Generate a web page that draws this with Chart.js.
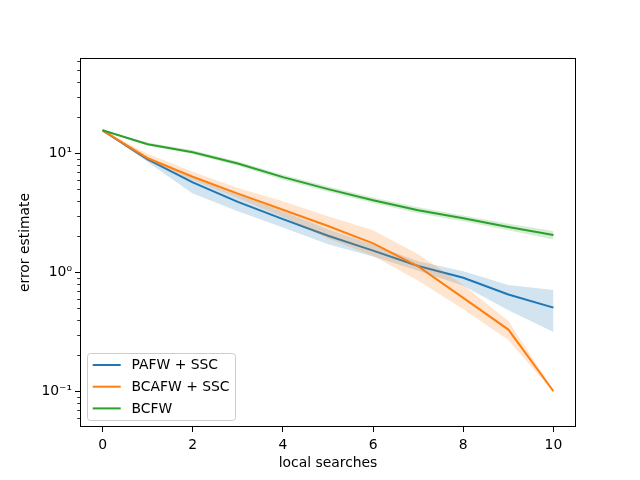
<!DOCTYPE html>
<html>
<head>
<meta charset="utf-8">
<script src="https://cdn.jsdelivr.net/npm/chart.js@4.4.1/dist/chart.umd.min.js"></script>
<style>
  html, body { margin: 0; padding: 0; background: #fff; }
  #wrap { width: 640px; height: 480px; }
</style>
</head>
<body>
<div id="wrap"><canvas id="errChart" width="640" height="480"></canvas></div>
<script>
// local search steps
const steps = [0, 1, 2, 3, 4, 5, 6, 7, 8, 9, 10];

// PAFW + SSC
const pafwMean  = [15.6, 8.9, 5.7, 3.9, 2.8, 2.03, 1.52, 1.13, 0.9, 0.65, 0.505];
const pafwUpper = [15.7, 9.3, 6.4, 4.5, 3.25, 2.3, 1.7, 1.24, 1.02, 0.78, 0.71];
const pafwLower = [15.5, 8.45, 4.6, 3.25, 2.38, 1.72, 1.36, 1.03, 0.77, 0.48, 0.315];

// BCAFW + SSC
const bcafwMean  = [15.6, 9.1, 6.35, 4.58, 3.35, 2.45, 1.75, 1.12, 0.61, 0.33, 0.1];
const bcafwUpper = [15.7, 9.9, 7.0, 5.1, 3.95, 2.95, 2.25, 1.42, 0.78, 0.39, 0.102];
const bcafwLower = [15.5, 8.6, 5.95, 4.2, 2.92, 1.92, 1.37, 0.85, 0.49, 0.27, 0.098];

// BCFW
const bcfwMean  = [15.6, 11.9, 10.2, 8.2, 6.3, 5.0, 4.03, 3.32, 2.84, 2.4, 2.06];
const bcfwUpper = [15.7, 12.3, 10.6, 8.55, 6.6, 5.25, 4.25, 3.52, 3.0, 2.56, 2.22];
const bcfwLower = [15.5, 11.6, 9.85, 7.85, 6.0, 4.75, 3.82, 3.13, 2.68, 2.25, 1.89];

const seriesNames = ["PAFW + SSC", "BCAFW + SSC", "BCFW"];
const xTicks = [0, 2, 4, 6, 8, 10];
const yTicks = [0.1, 1, 10];
const yTickLabels = ["10\u207B\u00B9", "10\u2070", "10\u00B9"];

const FONT = "'DejaVu Sans', sans-serif";
const colors = ["#1f77b4", "#ff7f0e", "#2ca02c"];
const bands = ["rgba(31,119,180,0.2)", "rgba(255,127,14,0.2)", "rgba(44,160,44,0.2)"];

const pts = arr => arr.map((v, i) => ({ x: steps[i], y: v }));

// build datasets: line, upper band (filled to lower), lower band
const groups = [
  [pafwMean, pafwUpper, pafwLower],
  [bcafwMean, bcafwUpper, bcafwLower],
  [bcfwMean, bcfwUpper, bcfwLower]
];
const datasets = [];
groups.forEach(([mean, up, low], g) => {
  const base = 9 - g * 3;
  datasets.push({
    label: seriesNames[g], data: pts(mean), isMain: true,
    borderColor: colors[g], borderWidth: 2, pointRadius: 0,
    tension: 0, fill: false, order: base
  });
  const lowIndex = datasets.length + 1;
  datasets.push({
    label: seriesNames[g] + " band", data: pts(up),
    borderWidth: 0, borderColor: "transparent", pointRadius: 0,
    backgroundColor: bands[g], fill: lowIndex, tension: 0, order: base - 1
  });
  datasets.push({
    label: seriesNames[g] + " low", data: pts(low),
    borderWidth: 0, borderColor: "transparent", pointRadius: 0,
    fill: false, tension: 0, order: base - 2
  });
});

// frame, minor ticks and legend (matplotlib look)
const decorPlugin = {
  id: "decor",
  afterDraw(chart) {
    const { ctx, chartArea: a, scales } = chart;
    const ys = scales.y;
    ctx.save();
    // minor log ticks
    ctx.strokeStyle = "#000";
    ctx.lineWidth = 0.8;
    for (let d = -2; d <= 1; d++) {
      for (let m = 2; m <= 9; m++) {
        const v = m * Math.pow(10, d);
        if (v < ys.min || v > ys.max) continue;
        const py = Math.round(ys.getPixelForValue(v)) + 0.5;
        ctx.beginPath();
        ctx.moveTo(a.left, py);
        ctx.lineTo(a.left - 2.8, py);
        ctx.stroke();
      }
    }
    // axes frame
    ctx.lineWidth = 1;
    ctx.strokeRect(Math.round(a.left) + 0.5, Math.round(a.top) + 0.5,
      Math.round(a.right - a.left) - 1, Math.round(a.bottom - a.top) - 1);

    // legend box
    const bx = 87.5, by = 353.5, bw = 148, bh = 67, r = 3;
    ctx.beginPath();
    ctx.moveTo(bx + r, by);
    ctx.arcTo(bx + bw, by, bx + bw, by + bh, r);
    ctx.arcTo(bx + bw, by + bh, bx, by + bh, r);
    ctx.arcTo(bx, by + bh, bx, by, r);
    ctx.arcTo(bx, by, bx + bw, by, r);
    ctx.closePath();
    ctx.fillStyle = "rgba(255,255,255,0.8)";
    ctx.fill();
    ctx.strokeStyle = "#cccccc";
    ctx.stroke();

    const mains = chart.data.datasets.filter(ds => ds.isMain);
    ctx.font = "13.9px " + FONT;
    ctx.textBaseline = "middle";
    ctx.textAlign = "left";
    mains.forEach((ds, i) => {
      const ly = 365 + i * 21.7;
      ctx.strokeStyle = ds.borderColor;
      ctx.lineWidth = 2;
      ctx.beginPath();
      ctx.moveTo(92.7, ly);
      ctx.lineTo(120.7, ly);
      ctx.stroke();
      ctx.fillStyle = "#000";
      ctx.fillText(ds.label, 131.5, ly + 0.5);
    });
    ctx.restore();
  }
};

new Chart(document.getElementById("errChart"), {
  type: "line",
  data: { datasets },
  plugins: [decorPlugin],
  options: {
    responsive: false,
    animation: false,
    layout: { padding: { top: 58, right: 64, bottom: 0, left: 0 } },
    plugins: {
      legend: { display: false },
      tooltip: { enabled: false },
      filler: { propagate: false }
    },
    scales: {
      x: {
        type: "linear",
        min: -0.5,
        max: 10.5,
        afterBuildTicks: s => { s.ticks = xTicks.map(v => ({ value: v })); },
        afterFit: s => { s.height = 53; s.paddingLeft = 0; s.paddingRight = 0; },
        grid: { drawOnChartArea: false, tickLength: 5, tickColor: "#000", tickWidth: 1 },
        border: { display: false },
        ticks: {
          color: "#000", padding: 5, maxRotation: 0,
          font: { family: FONT, size: 13.9 },
          callback: v => String(v)
        },
        title: {
          display: true, text: "local searches", color: "#000",
          font: { family: FONT, size: 13.9 }, padding: { top: 0, bottom: 8 }
        }
      },
      y: {
        type: "logarithmic",
        min: 0.0501,
        max: 63.2,
        afterBuildTicks: s => { s.ticks = yTicks.map(v => ({ value: v })); },
        afterFit: s => { s.width = 80; s.paddingTop = 0; s.paddingBottom = 0; },
        grid: { drawOnChartArea: false, tickLength: 5, tickColor: "#000", tickWidth: 1 },
        border: { display: false },
        ticks: {
          color: "#000", padding: 3,
          font: { family: FONT, size: 13.9 },
          callback: v => {
            const k = yTicks.findIndex(t => Math.abs(t - v) < t * 1e-6);
            return k >= 0 ? yTickLabels[k] : "";
          }
        },
        title: {
          display: true, text: "error estimate", color: "#000",
          font: { family: FONT, size: 13.9 }, padding: { top: 17, bottom: 0 }
        }
      }
    }
  }
});
</script>
</body>
</html>
